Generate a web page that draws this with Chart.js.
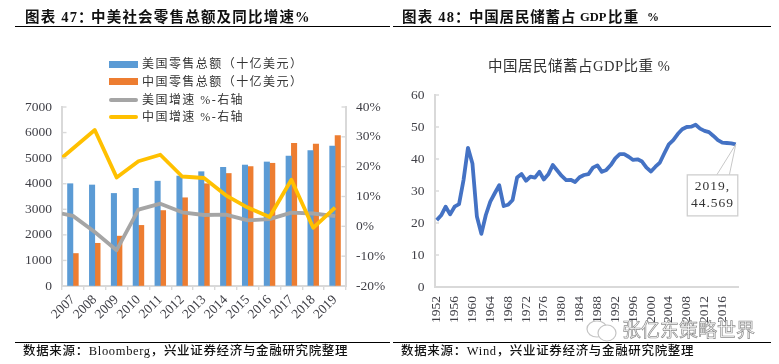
<!DOCTYPE html>
<html lang="zh"><head><meta charset="utf-8">
<script src="https://cdn.jsdelivr.net/npm/chart.js@4"></script>
<style>
html,body{margin:0;padding:0;background:#fff;}
body{position:relative;width:779px;height:364px;overflow:hidden;font-family:"Liberation Serif","Noto Sans CJK SC",serif;color:#111;}
canvas{position:absolute;top:0;}
.t{position:absolute;white-space:pre;line-height:1;}
.title{font-weight:700;font-size:14.5px;top:10px;letter-spacing:1.2px;color:#111;}
.foot{font-size:12.5px;top:345px;letter-spacing:.66px;color:#111;font-weight:500;}
.rule{position:absolute;height:1.3px;background:#000;}
.lg{position:absolute;left:142px;font-size:12px;letter-spacing:1.45px;color:#333;white-space:pre;line-height:1;}
.sw{position:absolute;left:109px;width:29px;}
.wm{position:absolute;left:622px;top:319px;font-family:"Noto Sans CJK SC",sans-serif;font-size:19px;letter-spacing:0;color:#fff;-webkit-text-stroke:.7px #8c8c8c;white-space:pre;line-height:1.1;}
</style></head><body>
<canvas id="left" width="390" height="364" style="left:0;width:390px;height:364px"></canvas>
<canvas id="right" width="389" height="364" style="left:390px;width:389px;height:364px"></canvas>

<div class="t title" style="left:25px">图表 47：</div>
<div class="t title" style="left:91px">中美社会零售总额及同比增速%</div>
<div class="t title" style="left:402px">图表 48：</div>
<div class="t title" style="left:469px;letter-spacing:.8px">中国居民储蓄占</div>
<div class="t title" style="left:580px;top:11px;letter-spacing:0;font-size:12.5px">GDP</div>
<div class="t title" style="left:608px">比重</div>
<div class="t title" style="left:647px;top:11px;font-size:12px;letter-spacing:0">%</div>
<div class="rule" style="left:15px;width:375px;top:25.5px"></div>
<div class="rule" style="left:393px;width:378px;top:25.5px"></div>
<div class="rule" style="left:15px;width:375px;top:342px"></div>
<div class="rule" style="left:393px;width:378px;top:342px"></div>
<div class="t foot" style="left:23px">数据来源：Bloomberg，兴业证券经济与金融研究院整理</div>
<div class="t foot" style="left:401px">数据来源：Wind，兴业证券经济与金融研究院整理</div>
<div class="t" style="left:488px;top:59px;font-size:14.5px;letter-spacing:.5px;color:#333">中国居民储蓄占GDP比重 %</div>

<div class="sw" style="top:61px;height:7px;background:#5B9BD5"></div>
<div class="lg" style="top:58px">美国零售总额（十亿美元）</div>
<div class="sw" style="top:78px;height:7px;background:#ED7D31"></div>
<div class="lg" style="top:76px">中国零售总额（十亿美元）</div>
<div class="sw" style="top:97.5px;height:4px;border-radius:2px;background:#A5A5A5"></div>
<div class="lg" style="top:94px">美国增速 %-右轴</div>
<div class="sw" style="top:115px;height:4px;border-radius:2px;background:#FFC000"></div>
<div class="lg" style="top:111px">中国增速 %-右轴</div>

<svg style="position:absolute;left:585px;top:316px" width="36" height="28" fill="#fff" stroke="#c4c4c4" stroke-width="1.2"><ellipse cx="12" cy="13" rx="10" ry="8"/><ellipse cx="22" cy="17" rx="9" ry="8"/></svg>
<div class="wm">张亿东策略世界</div>

<script>
// ---------- chart 47 data ----------
const years = ['2007','2008','2009','2010','2011','2012','2013','2014','2015','2016','2017','2018','2019'];
const usRetail = [4000,3950,3620,3820,4100,4300,4470,4640,4730,4850,5080,5300,5470];
const cnRetail = [1270,1670,1950,2370,2950,3450,4000,4400,4670,4800,5580,5550,5880];
const growthYears = [2006.5,2007,2008,2009,2010,2011,2012,2013,2014,2015,2016,2017,2018,2019];
const usGrowth = [4.3,3.5,-1.9,-8.0,5.6,7.6,4.7,3.8,3.9,2.0,2.4,4.6,4.3,3.4];
const cnGrowth = [23.0,26.1,32.3,16.4,21.8,24.0,16.7,16.2,10.4,6.3,3.1,15.6,-0.5,6.3];
// ---------- chart 48 data ----------
const savingYears = ['1952','1953','1954','1955','1956','1957','1958','1959','1960','1961','1962','1963','1964','1965','1966','1967','1968','1969','1970','1971','1972','1973','1974','1975','1976','1977','1978','1979','1980','1981','1982','1983','1984','1985','1986','1987','1988','1989','1990','1991','1992','1993','1994','1995','1996','1997','1998','1999','2000','2001','2002','2003','2004','2005','2006','2007','2008','2009','2010','2011','2012','2013','2014','2015','2016','2017','2018','2019'];
const savingShare = [20.9,22.4,25.1,22.7,25.1,25.9,33.4,43.5,38.6,22.0,16.6,22.5,26.7,29.3,31.8,25.3,25.7,27.2,34.2,35.3,33.2,34.5,34.2,36.0,33.6,35.2,38.1,36.4,34.7,33.4,33.5,32.8,34.3,35.0,35.3,37.3,38.0,36.0,36.6,38.1,40.2,41.5,41.5,40.7,39.7,39.9,39.2,37.3,36.1,37.6,38.9,41.8,44.6,45.9,47.8,49.3,50.0,50.1,50.7,49.5,48.8,48.4,47.2,45.9,45.1,45.0,44.9,44.569];
const calloutLines = ['2019,','44.569'];

const axisColor = '#d9d9d9', labelColor = '#3f3f46';
const serif = 'Liberation Serif';
const tickFont = {family: serif, size: 13.5};
const plainNumber = {useGrouping:false};

const inwardTicks = {
  id: 'inwardTicks',
  afterDatasetsDraw(chart) {
    const c = chart.ctx;
    c.save(); c.strokeStyle = axisColor; c.lineWidth = 1.4;
    for (const s of Object.values(chart.scales)) {
      if (s.axis !== 'y') continue;
      const left = s.position === 'left';
      const x0 = left ? s.right : s.left, x1 = left ? x0 + 4.5 : x0 - 4.5;
      for (const t of s.ticks) {
        const y = s.getPixelForValue(t.value);
        c.beginPath(); c.moveTo(x0, y); c.lineTo(x1, y); c.stroke();
      }
    }
    c.restore();
  }
};

const callout = {
  id: 'callout',
  afterDraw(chart) {
    const meta = chart.getDatasetMeta(0);
    const p = meta.data[meta.data.length - 1];
    if (!p) return;
    const c = chart.ctx, bx = p.x - 48.5, by = p.y + 30.5, bw = 50.5, bh = 41;
    c.save();
    c.strokeStyle = '#c8c8c8'; c.lineWidth = 1;
    c.beginPath(); c.moveTo(p.x, p.y); c.lineTo(p.x - 19, by); c.moveTo(p.x, p.y); c.lineTo(p.x - 6.4, by); c.stroke();
    c.fillStyle = '#fff'; c.fillRect(bx, by, bw, bh);
    c.strokeStyle = '#cfcfcf'; c.lineWidth = 1.3; c.strokeRect(bx, by, bw, bh);
    c.fillStyle = '#333'; c.font = '13.5px "' + serif + '"';
    c.textAlign = 'center'; c.textBaseline = 'middle';
    if ('letterSpacing' in c) c.letterSpacing = '1px';
    c.fillText(calloutLines[0], bx + bw / 2, by + 12);
    c.fillText(calloutLines[1], bx + bw / 2, by + 29);
    c.restore();
  }
};

const toPoints = (xs, ys) => xs.map((x, i) => ({x, y: ys[i]}));
const lineStyle = color => ({type:'line', xAxisID:'xLine', yAxisID:'yRight', borderColor:color, backgroundColor:color,
  borderWidth:3.8, pointRadius:0, tension:0, borderJoinStyle:'round', borderCapStyle:'butt'});

new Chart(document.getElementById('left'), {
  data: {
    labels: years,
    datasets: [
      {...lineStyle('#A5A5A5'), label:'美国增速 %-右轴', data:toPoints(growthYears, usGrowth), order:2},
      {type:'bar', label:'美国零售总额（十亿美元）', data:usRetail, backgroundColor:'#5B9BD5', xAxisID:'x', yAxisID:'y', order:3, barThickness:5.4},
      {type:'bar', label:'中国零售总额（十亿美元）', data:cnRetail, backgroundColor:'#ED7D31', xAxisID:'x', yAxisID:'y', order:4, barThickness:5.4},
      {...lineStyle('#FFC000'), label:'中国增速 %-右轴', data:toPoints(growthYears, cnGrowth), order:1}
    ]
  },
  options: {
    responsive:false, animation:false, events:[],
    layout:{padding:{top:107,left:0,right:0,bottom:0}},
    plugins:{legend:{display:false}, tooltip:{enabled:false}, title:{display:false}},
    scales:{
      x:{position:'bottom', offset:true,
        grid:{display:true, drawOnChartArea:false, drawTicks:true, tickLength:4, color:axisColor, lineWidth:1.4, offset:true},
        border:{color:axisColor, width:2},
        ticks:{color:labelColor, font:tickFont, autoSkip:false, minRotation:45, maxRotation:45, padding:2},
        afterFit(s){s.height = 78;}},
      xLine:{type:'linear', display:false, min:2006.5, max:2019.5},
      y:{position:'left', min:0, max:7000,
        grid:{drawOnChartArea:false, drawTicks:false},
        border:{color:axisColor, width:2},
        ticks:{stepSize:1000, color:labelColor, font:tickFont, padding:10, format:plainNumber},
        afterFit(s){s.width = 62;}},
      yRight:{position:'right', min:-20, max:40,
        grid:{drawOnChartArea:false, drawTicks:false},
        border:{color:axisColor, width:2},
        ticks:{stepSize:10, color:labelColor, font:tickFont, padding:10, callback:v => v + '%'},
        afterFit(s){s.width = 44;}}
    }
  },
  plugins:[inwardTicks]
});

new Chart(document.getElementById('right'), {
  type:'line',
  data:{labels:savingYears, datasets:[{label:'中国居民储蓄占GDP比重 %', data:savingShare, borderColor:'#4472C4', backgroundColor:'#4472C4',
    borderWidth:3.8, pointRadius:0, tension:0, borderJoinStyle:'round'}]},
  options:{
    responsive:false, animation:false, events:[],
    layout:{padding:{top:95,left:0,right:41,bottom:0}},
    plugins:{legend:{display:false}, tooltip:{enabled:false}, title:{display:false}},
    scales:{
      x:{offset:true,
        grid:{display:false},
        border:{color:axisColor, width:2},
        ticks:{color:labelColor, font:tickFont, autoSkip:false, minRotation:90, maxRotation:90, padding:1,
          callback(v,i){return i % 4 === 0 ? this.getLabelForValue(v) : '';}},
        afterFit(s){s.height = 77;}},
      y:{position:'left', min:0, max:60,
        grid:{drawOnChartArea:false, drawTicks:false},
        border:{color:axisColor, width:2},
        ticks:{stepSize:10, color:labelColor, font:tickFont, padding:10},
        afterFit(s){s.width = 44.5;}}
    },
    clip:false
  },
  plugins:[inwardTicks, callout]
});
</script>
</body></html>
